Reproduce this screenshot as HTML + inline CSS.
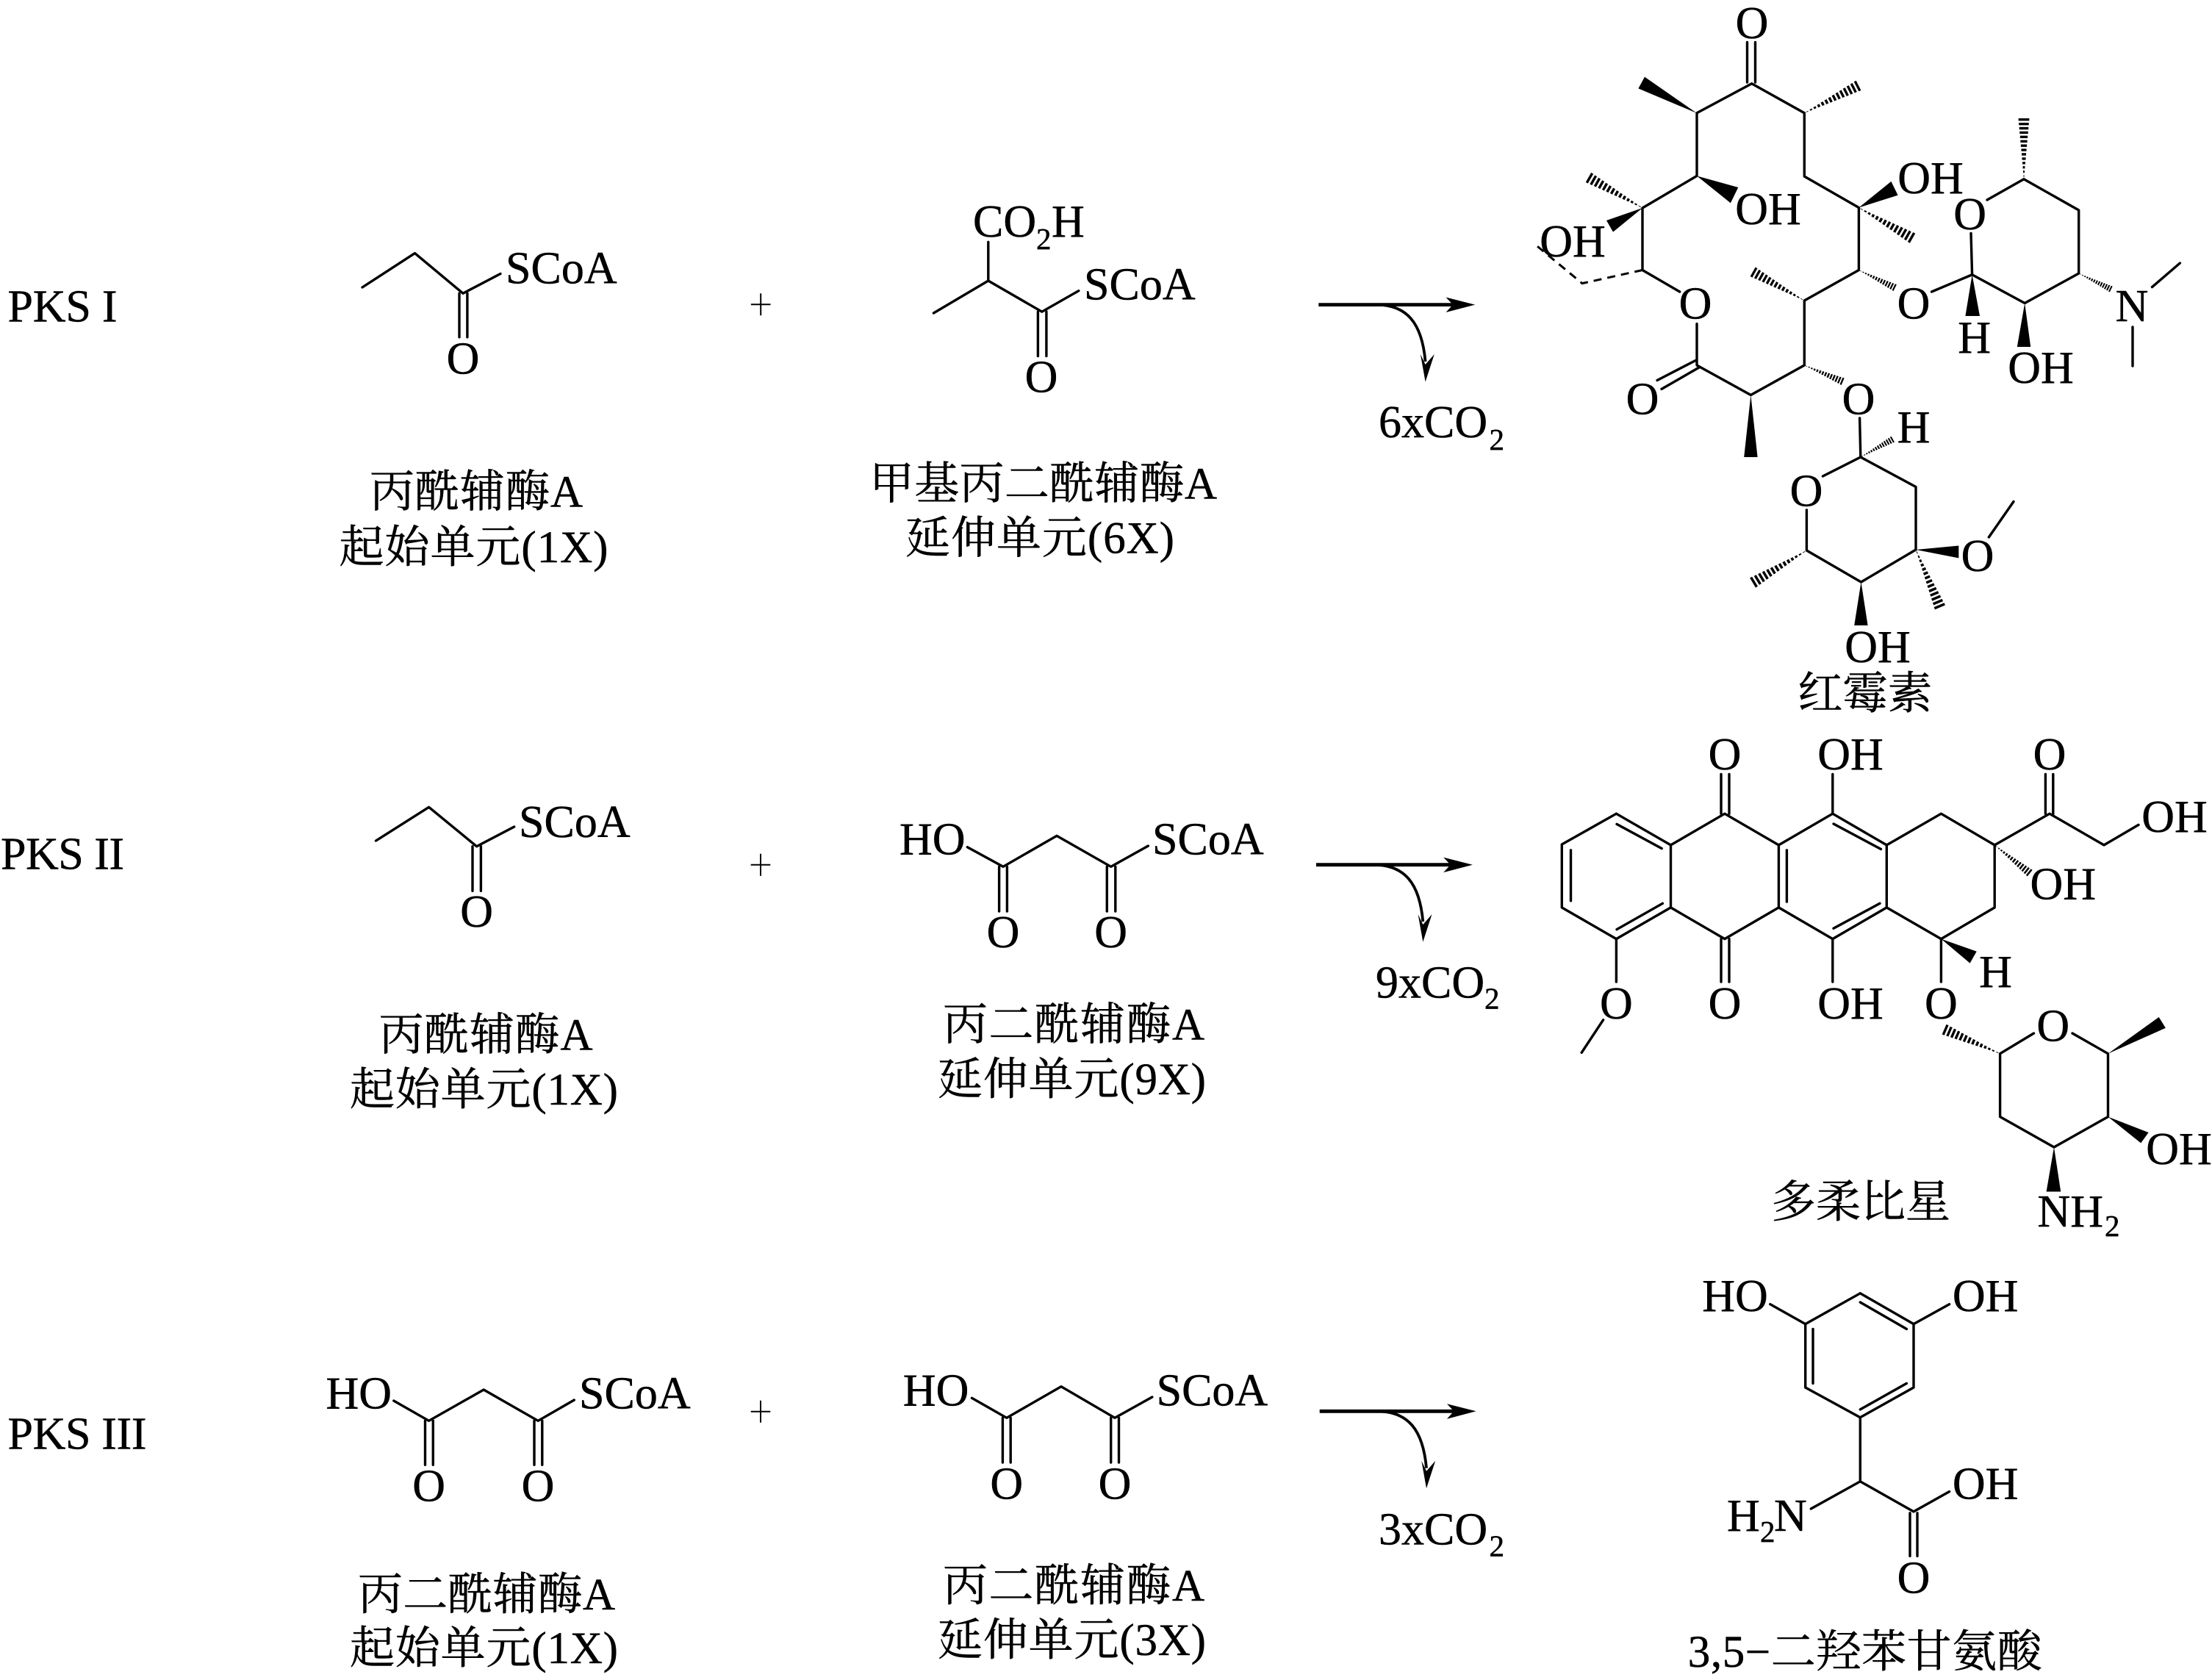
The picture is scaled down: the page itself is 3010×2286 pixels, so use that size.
<!DOCTYPE html>
<html lang="zh">
<head>
<meta charset="utf-8">
<title>PKS</title>
<style>
html,body{margin:0;padding:0;background:#fff}
svg{display:block}
text{font-family:"Liberation Serif","Noto Serif CJK SC",serif;font-size:62px;fill:#000;stroke:#000;stroke-width:.5px}
.a{text-anchor:middle}
.s{font-size:41px}
.c{font-size:61px}
.b{fill:none;stroke:#000;stroke-width:3.4;stroke-linecap:round;stroke-linejoin:round}
.w{fill:#000;stroke:none}
</style>
</head>
<body>
<svg xmlns="http://www.w3.org/2000/svg" width="3010" height="2286" viewBox="0 0 3010 2286">
<rect width="3010" height="2286" fill="#fff"/>
<defs>
<g id="h" stroke="#000" stroke-width="4" fill="none">
<path d="M5,-.5V.5M12,-1.1V1.1M19,-1.7V1.7M26,-2.3V2.3M33,-3V3M40,-3.6V3.6M47,-4.2V4.2M54,-4.9V4.9M61,-5.5V5.5M68,-6.1V6.1M75,-6.8V6.8M82,-7.4V7.4M89,-8V8M96,-8.7V8.7"/>
</g>
<g id="arr">
<path d="M1794.3,414.6H1985" fill="none" stroke="#000" stroke-width="4.8"/>
<polygon points="2007.2,414.6 1967.5,404.5 1977,414.6 1967.5,425" fill="#000"/>
<path d="M1872,414.6C1915,414.6 1935,440 1939.6,492" fill="none" stroke="#000" stroke-width="3.8"/>
<polygon points="1939.6,519.5 1932.9,482 1939.6,496 1951.8,482" fill="#000"/>
</g>
<g id="pl"><path d="M-13.3,0H13.3M0,-15V15" fill="none" stroke="#000" stroke-width="2"/></g>
</defs>

<!-- Row labels -->
<text x="10.5" y="437.5" textLength="149">PKS I</text>
<text x="1" y="1182.5" textLength="168">PKS II</text>
<text x="10.5" y="1971.5" textLength="189">PKS III</text>

<!-- Row 1 left -->
<path class="b" d="M493,391L564.5,344.6L630,399.2L681,372.5M625,399.2V458.8M635.9,399.2V458.8"/>
<text x="688" y="385.5">SCoA</text>
<text class="a" x="630" y="508.5">O</text>
<text class="c" x="503" y="689.5" textLength="290">丙酰辅酶A</text>
<text class="c" x="461.5" y="765" textLength="366">起始单元(1X)</text>

<!-- Row 1 plus + middle -->
<use href="#pl" transform="translate(1035.2,414.2)"/>
<path class="b" d="M1270.4,426L1344.8,382L1417.8,424.2L1467.8,395.7M1344.8,382V329.3M1412.4,424V484.5M1423.9,424V484.5"/>
<text x="1324" y="322">CO</text><text class="s" x="1410" y="339">2</text><text x="1431" y="322">H</text>
<text x="1475" y="407.5">SCoA</text>
<text class="a" x="1417" y="533.5">O</text>
<text class="c" x="1183" y="678.5" textLength="473">甲基丙二酰辅酶A</text>
<text class="c" x="1232" y="752.5" textLength="366">延伸单元(6X)</text>
<use href="#arr"/>
<text x="1876" y="595">6xCO</text><text class="s" x="2026.5" y="612">2</text>

<!-- Erythromycin -->
<path class="b" d="M2377.5,57.5V112M2388.5,57.5V112M2383.7,113.75L2309,153.75V239.4L2235,283V367.5L2285.7,397M2309,440.6V497L2382.4,537.5L2455.3,497V409L2529.4,367.5V282.5L2455.3,240V153.75L2383.7,113.75"/>
<path class="b" d="M2255,517.5L2307,490.6M2261,529.4L2312,500"/>
<path class="b" d="M2628.5,397L2683.6,373.75L2755.2,412.5L2828.7,372V286L2754,243.75L2704,272M2682,317.5L2683.6,373.75"/>
<path class="b" d="M2928.5,390.6L2966.4,358M2902,445V498"/>
<path class="b" d="M2530.6,569L2531.8,622L2607,662.5V748L2532.5,792L2458.4,749V694M2531.8,622L2480.4,648"/>
<path class="b" d="M2706.3,731L2740,682.5"/>
<path d="M2235,367.5L2153,385.6L2087,331" fill="none" stroke="#000" stroke-width="3" stroke-dasharray="11 8"/>
<polygon class="w" points="2309,154 2238,104.6 2229.4,120.4"/>
<polygon class="w" points="2309,239.4 2365.3,255 2354.9,276.25"/>
<polygon class="w" points="2235,283 2186,300 2195,315.6"/>
<polygon class="w" points="2529.4,282.5 2573.4,246.9 2582.6,265.6"/>
<polygon class="w" points="2683.6,373.75 2674.4,430 2694,430"/>
<polygon class="w" points="2755.2,412.5 2744.8,472 2763.2,472"/>
<polygon class="w" points="2382.4,537.5 2373.2,622 2391.6,622"/>
<polygon class="w" points="2607,748 2665.3,742.5 2665.3,759.4"/>
<polygon class="w" points="2532.5,792 2523.2,851 2541.6,851"/>
<use href="#h" transform="translate(2455.3,153.75) rotate(-26.9) scale(.844)"/>
<use href="#h" transform="translate(2235,283) rotate(-150.5) scale(.862)"/>
<use href="#h" transform="translate(2529.4,282.5) rotate(29.7) scale(.859)"/>
<use href="#h" transform="translate(2455.3,409) rotate(-150.8) scale(.82)"/>
<use href="#h" transform="translate(2529.4,367.5) rotate(26) scale(.56)"/>
<use href="#h" transform="translate(2455.3,497) rotate(23) scale(.58)"/>
<use href="#h" transform="translate(2754,243.75) rotate(-90) scale(.844)"/>
<use href="#h" transform="translate(2828.7,372) rotate(26) scale(.5)"/>
<use href="#h" transform="translate(2531.8,622) rotate(-29) scale(.513)"/>
<use href="#h" transform="translate(2607,748) rotate(67.2) scale(.868)"/>
<use href="#h" transform="translate(2458.4,749) rotate(149) scale(.873)"/>
<text class="a" x="2384" y="52">O</text>
<text class="a" x="2406" y="305">OH</text>
<text class="a" x="2140" y="349">OH</text>
<text class="a" x="2627" y="263">OH</text>
<text class="a" x="2680.6" y="312">O</text>
<text class="a" x="2307" y="433.5">O</text>
<text class="a" x="2604" y="433.5">O</text>
<text class="a" x="2686.7" y="480">H</text>
<text class="a" x="2901" y="437">N</text>
<text class="a" x="2777" y="521">OH</text>
<text class="a" x="2235" y="563.5">O</text>
<text class="a" x="2529" y="563.5">O</text>
<text class="a" x="2604" y="602">H</text>
<text class="a" x="2458" y="688.5">O</text>
<text class="a" x="2691" y="777">O</text>
<text class="a" x="2555" y="901">OH</text>
<text class="a c" x="2538" y="964">红霉素</text>

<!-- Row 2 left -->
<path class="b" d="M511.5,1144L583.6,1098.3L648.6,1151.7L699.7,1125M643,1151.7V1212.3M654.4,1151.7V1212.3"/>
<text x="706" y="1139">SCoA</text>
<text class="a" x="648.6" y="1261">O</text>
<text class="c" x="515.6" y="1428.7" textLength="291">丙酰辅酶A</text>
<text class="c" x="476" y="1503" textLength="365">起始单元(1X)</text>

<!-- Row 2 middle -->
<use href="#pl" transform="translate(1035,1176.7)"/>
<text x="1224" y="1162.5">HO</text>
<path class="b" d="M1316.4,1152.7L1365,1179.3L1438,1137.3L1511.7,1179.3L1562.4,1151M1359.6,1179.3V1240M1370.4,1179.3V1240M1506.3,1179.3V1240M1517.8,1179.3V1240"/>
<text x="1568" y="1162.5">SCoA</text>
<text class="a" x="1365" y="1289">O</text>
<text class="a" x="1511.7" y="1289">O</text>
<text class="c" x="1283" y="1414.7" textLength="356">丙二酰辅酶A</text>
<text class="c" x="1276" y="1489" textLength="365">延伸单元(9X)</text>
<use href="#arr" transform="translate(-3.3,762.1)"/>
<text x="1872" y="1357.5">9xCO</text><text class="s" x="2020" y="1372.5">2</text>

<!-- Doxorubicin -->
<path class="b" d="M2199.4,1107.2L2125.3,1149V1234.9L2199.4,1277.6L2273.5,1234.9V1149.9L2199.4,1107.2M2273.5,1149.9L2346.9,1107.2L2420.4,1149.9V1234.9L2346.9,1277.6L2273.5,1234.9M2420.4,1149.9L2493.8,1107.2L2567.3,1149.9V1234.9L2493.8,1277.6L2420.4,1234.9M2567.3,1149.9L2641.4,1107.2L2714.2,1149.9V1234.9L2641.4,1277.6L2567.3,1234.9"/>
<path class="b" d="M2137.5,1156.8V1225.7M2200,1121.4L2261.2,1154.5M2200,1264.7L2262.4,1229.3M2431.4,1156.8V1227M2495,1121L2559.4,1155.4M2495,1263.3L2558,1229.3"/>
<path class="b" d="M2342,1053.5V1107.2M2353,1053.5V1107.2M2493.8,1053.5V1107.2M2342,1277.6V1336M2353,1277.6V1336M2493.8,1277.6V1336M2641.4,1277.6V1336M2199.4,1277.6V1336M2181.6,1387.8L2152.2,1432.3"/>
<path class="b" d="M2714.2,1149.9L2789,1107.2L2863,1149.9L2910,1122.4M2783.4,1053.5V1107.2M2793.8,1053.5V1107.2"/>
<path class="b" d="M2767.5,1406L2721.6,1433.7V1519.6L2795,1561L2868.5,1519.6V1433.7L2820,1406"/>
<polygon class="w" points="2641.4,1277.6 2689.7,1294.6 2680.6,1310.6"/>
<polygon class="w" points="2868.5,1433.7 2937.7,1384 2946.9,1398.8"/>
<polygon class="w" points="2868.5,1519.6 2923.6,1541 2913.2,1555.4"/>
<polygon class="w" points="2795,1561 2784.6,1621.5 2804.2,1621.5"/>
<use href="#h" transform="translate(2714.2,1149.9) rotate(38.5) scale(.626)"/>
<use href="#h" transform="translate(2721.6,1433.7) rotate(-156.5) scale(.846)"/>
<text class="a" x="2347" y="1047">O</text>
<text class="a" x="2518" y="1047">OH</text>
<text class="a" x="2789" y="1047">O</text>
<text class="a" x="2959" y="1132">OH</text>
<text class="a" x="2807.3" y="1223.7">OH</text>
<text class="a" x="2715.5" y="1343">H</text>
<text class="a" x="2347" y="1386">O</text>
<text class="a" x="2518" y="1386">OH</text>
<text class="a" x="2641.4" y="1386">O</text>
<text class="a" x="2199.4" y="1386">O</text>
<text class="a" x="2793.8" y="1416.6">O</text>
<text class="a" x="2965" y="1584">OH</text>
<text x="2772.5" y="1669">NH</text><text class="s" x="2864" y="1682">2</text>
<text class="a c" x="2532" y="1656">多柔比星</text>

<!-- Row 3 left -->
<text x="443.5" y="1916.5">HO</text>
<path class="b" d="M535.8,1906L583.6,1933.3L658.2,1891L732.2,1933.3L781.3,1905M578.5,1933.3V1993.3M589.3,1933.3V1993.3M727,1933.3V1993.3M737.8,1933.3V1993.3"/>
<text x="788" y="1916.5">SCoA</text>
<text class="a" x="583.6" y="2042.7">O</text>
<text class="a" x="732" y="2042.7">O</text>
<text class="c" x="487" y="2190" textLength="350">丙二酰辅酶A</text>
<text class="c" x="476" y="2263" textLength="365">起始单元(1X)</text>

<!-- Row 3 middle -->
<use href="#pl" transform="translate(1035,1920.7)"/>
<text x="1228.8" y="1912.5">HO</text>
<path class="b" d="M1322.5,1902.3L1369.8,1929.3L1444,1886.7L1517,1929.3L1567.8,1901M1364.4,1929.3V1990M1375.2,1929.3V1990M1511.7,1929.3V1990M1522.5,1929.3V1990"/>
<text x="1573.6" y="1912.5">SCoA</text>
<text class="a" x="1369.8" y="2039.3">O</text>
<text class="a" x="1517" y="2039.3">O</text>
<text class="c" x="1283" y="2178" textLength="356">丙二酰辅酶A</text>
<text class="c" x="1276" y="2252" textLength="365">延伸单元(3X)</text>
<use href="#arr" transform="translate(1.4,1505.7)"/>
<text x="1876" y="2101.5">3xCO</text><text class="s" x="2026.5" y="2117.5">2</text>

<!-- Amino acid -->
<path class="b" d="M2531.3,1759.8L2604,1801.6V1888L2531.3,1928.7L2456.7,1888V1801.6L2531.3,1759.8"/>
<path class="b" d="M2531.3,1772L2594.4,1808.4M2467,1808.4V1882.4M2594.4,1882.4L2531.3,1917.9"/>
<path class="b" d="M2408.8,1774.7L2456.7,1801.6M2604,1801.6L2652.6,1774.7M2531.3,1928.7V2015.8L2604,2056.9L2652.6,2029.6M2531.3,2015.8L2464.3,2053M2599,2058.8V2117.4M2609,2058.8V2117.4"/>
<text class="a" x="2361" y="1784">HO</text>
<text class="a" x="2701.6" y="1784">OH</text>
<text class="a" x="2701.6" y="2039.4">OH</text>
<text x="2350" y="2083">H</text><text class="s" x="2395" y="2098">2</text><text x="2414" y="2083">N</text>
<text class="a" x="2604" y="2167.6">O</text>
<text class="c" x="2296.8" y="2268" textLength="482">3,5−二羟苯甘氨酸</text>
</svg>
</body>
</html>
